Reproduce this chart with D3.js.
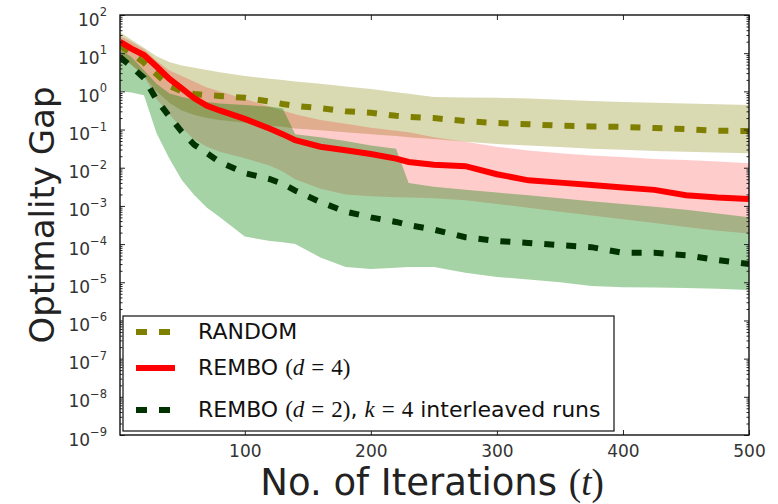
<!DOCTYPE html>
<html>
<head>
<meta charset="utf-8">
<script src="https://cdnjs.cloudflare.com/ajax/libs/d3/7.8.5/d3.min.js"></script>
<style>
  body {margin: 0; background: #fff;}
  text {font-family: "DejaVu Sans", sans-serif;}
  .math {font-family: "Liberation Serif", "DejaVu Serif", serif;}
  .tick line {stroke: #222;}
</style>
</head>
<body>
<script>
var iters = [1, 10, 20, 30, 40, 50, 60, 70, 80, 100, 120, 130, 140, 160, 180, 200,
             220, 230, 250, 275, 300, 325, 350, 375, 400, 425, 450, 475, 500];

// all values below are log10 of the optimality gap
var randomMed = [1.2, 1.0, 0.75, 0.45, 0.15, 0.0, -0.07, -0.10, -0.12, -0.17, -0.27, -0.33, -0.38, -0.44, -0.52, -0.56,
                 -0.64, -0.67, -0.70, -0.78, -0.83, -0.86, -0.90, -0.92, -0.93, -0.96, -0.99, -1.03, -1.04];
var randomHi  = [1.55, 1.35, 1.14, 0.92, 0.77, 0.68, 0.62, 0.56, 0.50, 0.40, 0.33, 0.30, 0.26, 0.20, 0.13, 0.06,
                 -0.02, -0.06, -0.15, -0.16, -0.17, -0.19, -0.22, -0.25, -0.28, -0.30, -0.32, -0.34, -0.36];
var randomLo  = [0.9, 0.7, 0.4, 0.0, -0.3, -0.5, -0.62, -0.7, -0.75, -0.82, -0.9, -0.93, -0.97, -1.02, -1.07, -1.12,
                 -1.17, -1.2, -1.25, -1.32, -1.38, -1.42, -1.46, -1.5, -1.53, -1.56, -1.58, -1.6, -1.62];

var rembo4Med = [1.30, 1.12, 0.95, 0.65, 0.33, 0.08, -0.18, -0.38, -0.50, -0.72, -0.98, -1.12, -1.28, -1.45, -1.54, -1.64,
                 -1.76, -1.85, -1.92, -1.96, -2.17, -2.33, -2.39, -2.45, -2.52, -2.58, -2.72, -2.78, -2.82];
var rembo4Hi  = [1.45, 1.3, 1.1, 0.8, 0.55, 0.4, 0.25, 0.1, 0.0, -0.2, -0.4, -0.5, -0.6, -0.75, -0.85, -0.95,
                 -1.03, -1.07, -1.2, -1.32, -1.45, -1.55, -1.62, -1.68, -1.72, -1.77, -1.80, -1.84, -1.88];
var rembo4Lo  = [0.9, 0.7, 0.4, -0.2, -0.6, -0.95, -1.27, -1.45, -1.58, -1.75, -1.95, -2.1, -2.3, -2.55, -2.7, -2.75,
                 -2.77, -2.78, -2.80, -2.85, -2.95, -3.05, -3.15, -3.25, -3.35, -3.45, -3.55, -3.65, -3.72];

var rembo2Med = [0.9, 0.65, 0.35, -0.22, -0.65, -1.06, -1.40, -1.62, -1.85, -2.14, -2.30, -2.42, -2.60, -2.90, -3.15, -3.30,
                 -3.42, -3.50, -3.62, -3.82, -3.92, -3.97, -4.03, -4.08, -4.23, -4.23, -4.29, -4.42, -4.52];
var rembo2Hi  = [1.1, 0.9, 0.55, 0.2, -0.05, -0.15, -0.22, -0.28, -0.32, -0.36, -0.40, -0.44, -1.12, -1.2, -1.3, -1.42,
                 -1.5, -2.4, -2.5, -2.58, -2.65, -2.72, -2.8, -2.88, -2.95, -3.02, -3.1, -3.2, -3.3];
var rembo2Lo  = [0.0, -0.03, -0.1, -1.1, -1.75, -2.32, -2.72, -3.05, -3.29, -3.80, -3.92, -3.95, -4.0, -4.35, -4.6, -4.65,
                 -4.62, -4.6, -4.6, -4.75, -4.86, -4.93, -5.0, -5.1, -5.13, -5.14, -5.15, -5.17, -5.2];

var xTicks = [100, 200, 300, 400, 500];
var yTickExps = [2, 1, 0, -1, -2, -3, -4, -5, -6, -7, -8, -9];

// define the dimensions and margins for the graph
var margin = {top: 15, right: 29, bottom: 69, left: 120};
var width = 778 - margin.left - margin.right;
var height = 504 - margin.top - margin.bottom;

var svg = d3.select("body").append("svg")
    .attr("width", 778)
    .attr("height", 504);

var g = svg.append("g")
    .attr("transform", "translate(" + margin.left + "," + margin.top + ")");

var x = d3.scaleLinear().domain([1, 500]).range([0, width]);
var y = d3.scaleLog().domain([1e-9, 1e2]).range([height, 0]);

function rows(lo, hi, med) {
  return iters.map(function (t, i) {
    return {t: t, lo: Math.pow(10, lo[i]), hi: Math.pow(10, hi[i]), med: Math.pow(10, med[i])};
  });
}

var series = [
  {data: rows(randomLo, randomHi, randomMed), fill: "#808000", op: 0.3, stroke: "#808000", dash: "10,12"},
  {data: rows(rembo4Lo, rembo4Hi, rembo4Med), fill: "#ff0000", op: 0.2, stroke: "#ff0000", dash: null},
  {data: rows(rembo2Lo, rembo2Hi, rembo2Med), fill: "#008000", op: 0.35, stroke: "#003300", dash: "10,12"}
];

g.append("clipPath").attr("id", "clip")
  .append("rect").attr("width", width).attr("height", height);

var plot = g.append("g").attr("clip-path", "url(#clip)");

var area = d3.area()
    .x(function (d) { return x(d.t); })
    .y0(function (d) { return y(d.lo); })
    .y1(function (d) { return y(d.hi); });

var line = d3.line()
    .x(function (d) { return x(d.t); })
    .y(function (d) { return y(d.med); });

series.forEach(function (s) {
  plot.append("path").datum(s.data)
    .attr("d", area)
    .attr("fill", s.fill)
    .attr("fill-opacity", s.op)
    .attr("stroke", "none");
});

series.forEach(function (s) {
  plot.append("path").datum(s.data)
    .attr("d", line)
    .attr("fill", "none")
    .attr("stroke", s.stroke)
    .attr("stroke-width", 6)
    .attr("stroke-dasharray", s.dash);
});

// minor ticks on the log axis
var minors = [];
yTickExps.forEach(function (e) {
  if (e < 2) for (var m = 2; m < 10; m++) minors.push(m * Math.pow(10, e));
});
var majors = yTickExps.map(function (e) { return Math.pow(10, e); });

function noDomain(sel) { sel.select(".domain").remove(); }

g.append("g").call(d3.axisLeft(y).tickValues(majors).tickSize(-5).tickFormat("")).call(noDomain);
g.append("g").call(d3.axisLeft(y).tickValues(minors).tickSize(-2.5).tickFormat("")).call(noDomain);
g.append("g").attr("transform", "translate(" + width + ",0)")
  .call(d3.axisRight(y).tickValues(majors).tickSize(-5).tickFormat("")).call(noDomain);
g.append("g").attr("transform", "translate(" + width + ",0)")
  .call(d3.axisRight(y).tickValues(minors).tickSize(-2.5).tickFormat("")).call(noDomain);

var xAxis = g.append("g")
    .attr("transform", "translate(0," + height + ")")
    .call(d3.axisBottom(x).tickValues(xTicks).tickSize(-5).tickPadding(10))
    .call(noDomain);
xAxis.selectAll("text").attr("font-size", 17).attr("fill", "#333")
    .style("font-family", "'DejaVu Sans', sans-serif");
g.append("g").call(d3.axisTop(x).tickValues(xTicks).tickSize(-5).tickFormat("")).call(noDomain);

// y tick labels as 10^k
var yl = g.append("g");
yTickExps.forEach(function (e) {
  var t = yl.append("text")
      .attr("x", -13)
      .attr("y", y(Math.pow(10, e)) + 10.5)
      .attr("text-anchor", "end")
      .attr("fill", "#333")
      .attr("font-size", 17);
  t.append("tspan").text("10");
  t.append("tspan").attr("dy", -9.5).attr("font-size", 11.5)
    .text(e < 0 ? "\u2212" + (-e) : String(e));
});

// frame
g.append("rect").attr("width", width).attr("height", height)
  .attr("fill", "none").attr("stroke", "#111").attr("stroke-width", 1.4);

// axis labels
svg.append("text")
  .attr("transform", "translate(54,215) rotate(-90)")
  .attr("text-anchor", "middle")
  .attr("font-size", 34)
  .attr("fill", "#222")
  .text("Optimality Gap");

var xl = svg.append("text")
  .attr("x", 432)
  .attr("y", 495)
  .attr("text-anchor", "middle")
  .attr("font-size", 37)
  .attr("fill", "#222");
xl.append("tspan").text("No. of Iterations ");
xl.append("tspan").attr("class", "math").text("(");
xl.append("tspan").attr("class", "math").attr("font-style", "italic").text("t");
xl.append("tspan").attr("class", "math").text(")");

// legend
var legend = g.append("g").attr("transform", "translate(3,301)");
legend.append("rect").attr("width", 491).attr("height", 115)
  .attr("fill", "#fff").attr("stroke", "#222").attr("stroke-width", 1.3);

// [text, style, extra space before]  style: "" sans, "m" math, "i" math italic
var legendRows = [
  {s: series[0], cy: 16, parts: [["RANDOM", "", 0]]},
  {s: series[1], cy: 52, parts: [["REMBO ", "", 0], ["(", "m", 0], ["d", "i", 0], ["=", "m", 7], ["4", "m", 7], [")", "m", 0]]},
  {s: series[2], cy: 94, parts: [["REMBO ", "", 0], ["(", "m", 0], ["d", "i", 0], ["=", "m", 7], ["2", "m", 7], [")", "m", 0],
                                 [", ", "", 0], ["k", "i", 0], ["=", "m", 7], ["4", "m", 7], [" interleaved runs", "", 0]]}
];

legendRows.forEach(function (r) {
  legend.append("line")
    .attr("x1", 13).attr("x2", 52)
    .attr("y1", r.cy).attr("y2", r.cy)
    .attr("stroke", r.s.stroke)
    .attr("stroke-width", 6)
    .attr("stroke-dasharray", r.s.dash ? "11,12" : null);
  var t = legend.append("text")
    .attr("x", 75).attr("y", r.cy + 7)
    .attr("font-size", 22)
    .attr("fill", "#111");
  r.parts.forEach(function (p) {
    var sp = t.append("tspan").text(p[0]);
    if (p[2]) sp.attr("dx", p[2]);
    if (p[1]) sp.attr("class", "math").attr("font-size", 23);
    if (p[1] == "i") sp.attr("font-style", "italic");
  });
});
</script>
</body>
</html>
